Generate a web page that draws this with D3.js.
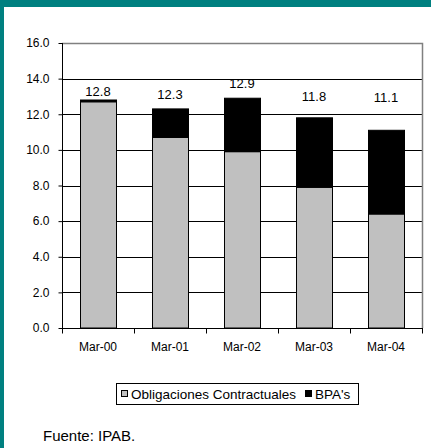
<!DOCTYPE html>
<html>
<head>
<meta charset="utf-8">
<script src="https://cdn.jsdelivr.net/npm/d3@7"></script>
<style>
  html, body { margin: 0; padding: 0; background: #fff; }
  svg { display: block; font-family: "Liberation Sans", Arial, sans-serif; }
</style>
</head>
<body>
<svg id="chart" width="431" height="448"></svg>
<script>
// Periods (March of each year)
const categories = ["Mar-00", "Mar-01", "Mar-02", "Mar-03", "Mar-04"];
// Obligaciones contractuales
const obligaciones = [12.7, 10.7, 9.9, 7.9, 6.4];
// BPA's
const bpas = [0.1, 1.6, 3.0, 3.9, 4.7];
// Totals printed above each bar
const totals = [12.8, 12.3, 12.9, 11.8, 11.1];
const yTicks = [0, 2, 4, 6, 8, 10, 12, 14, 16];
const seriesNames = ["Obligaciones Contractuales", "BPA's"];
const seriesColors = ["#c0c0c0", "#000000"];
// vertical nudge (px) of each total label above its bar
const labelLift = [4, 10, 10, 17, 28];

const svg = d3.select("#chart");
const W = 431, H = 448;

// teal frame strips (top and left)
svg.append("rect").attr("x", 0).attr("y", 0).attr("width", W).attr("height", 7).attr("fill", "#008080");
svg.append("rect").attr("x", 0).attr("y", 0).attr("width", 4).attr("height", H).attr("fill", "#008080");

const mLeft = 62, mRight = 422, mTop = 43, mBottom = 328;

const x = d3.scaleBand().domain(categories).range([mLeft, mRight]).paddingInner(0.5).paddingOuter(0.25);
const xb = d3.scaleBand().domain(categories).range([mLeft, mRight]);
const y = d3.scaleLinear().domain([0, 16]).range([mBottom, mTop]);

// horizontal gridlines
svg.append("g").selectAll("line").data(yTicks.filter(d => d > 0 && d < 16)).join("line")
  .attr("x1", mLeft).attr("x2", mRight)
  .attr("y1", d => Math.round(y(d)) + 0.5).attr("y2", d => Math.round(y(d)) + 0.5)
  .attr("stroke", "#000").attr("stroke-width", 1);

// plot frame top and right
svg.append("path")
  .attr("d", `M${mLeft},${Math.round(y(16)) + 0.5}H${mRight + 0.5}V${mBottom}`)
  .attr("fill", "none").attr("stroke", "#808080").attr("stroke-width", 1.5);

// stacked bars
const stack = categories.map((c, i) => ({ c, o: obligaciones[i], b: bpas[i] }));
const g = svg.append("g");
g.selectAll("rect.o").data(stack).join("rect").attr("class", "o")
  .attr("x", d => x(d.c) + 0.5).attr("width", x.bandwidth())
  .attr("y", d => y(d.o)).attr("height", d => y(0) - y(d.o))
  .attr("fill", seriesColors[0]).attr("stroke", "#000").attr("stroke-width", 1);
g.selectAll("rect.b").data(stack).join("rect").attr("class", "b")
  .attr("x", d => x(d.c) + 0.5).attr("width", x.bandwidth())
  .attr("y", d => y(d.o + d.b)).attr("height", d => y(d.o) - y(d.o + d.b))
  .attr("fill", seriesColors[1]).attr("stroke", "#000").attr("stroke-width", 1);

// total labels
svg.append("g").selectAll("text").data(totals).join("text")
  .attr("x", (d, i) => x(categories[i]) + x.bandwidth() / 2)
  .attr("y", (d, i) => y(d) - labelLift[i])
  .attr("text-anchor", "middle").attr("font-size", 13).attr("fill", "#000")
  .text(d => d.toFixed(1));

// y axis
const yAxis = d3.axisLeft(y).tickValues(yTicks).tickFormat(d3.format(".1f")).tickSize(4).tickPadding(9);
const ya = svg.append("g").attr("transform", `translate(${mLeft + 0.5},0)`).call(yAxis);
ya.select(".domain").attr("stroke", "#000").attr("d", `M0,${y(16)}V${mBottom}`);
ya.selectAll("text").attr("font-size", 12).attr("font-family", "Liberation Sans, Arial, sans-serif").attr("fill", "#000");
ya.selectAll("line").attr("stroke", "#000");

// x axis: ticks at category boundaries
const xa = svg.append("g").attr("transform", `translate(0,${mBottom + 0.5})`);
xa.append("line").attr("x1", mLeft).attr("x2", mRight + 1).attr("stroke", "#000");
xa.selectAll("line.t").data(categories.map(c => xb(c)).concat([mRight])).join("line").attr("class", "t")
  .attr("x1", d => Math.round(d) + 0.5).attr("x2", d => Math.round(d) + 0.5)
  .attr("y1", 0).attr("y2", 5).attr("stroke", "#000");
xa.selectAll("text").data(categories).join("text")
  .attr("x", d => xb(d) + xb.bandwidth() / 2).attr("y", 22)
  .attr("text-anchor", "middle").attr("font-size", 12).attr("fill", "#000")
  .text(d => d);

// legend
const lg = svg.append("g");
lg.append("rect").attr("x", 116.5).attr("y", 383.5).attr("width", 242).attr("height", 21)
  .attr("fill", "#fff").attr("stroke", "#000").attr("stroke-width", 1);
const items = [{ x: 121, name: seriesNames[0], color: seriesColors[0] }, { x: 305, name: seriesNames[1], color: seriesColors[1] }];
items.forEach(it => {
  lg.append("rect").attr("x", it.x + 0.5).attr("y", 390.5).attr("width", 6).attr("height", 6)
    .attr("fill", it.color).attr("stroke", "#000").attr("stroke-width", 1);
  lg.append("text").attr("x", it.x + 10).attr("y", 398.5).attr("font-size", 13.5).attr("fill", "#000").text(it.name);
});

// source note
svg.append("text").attr("x", 43).attr("y", 441).attr("font-size", 15).attr("fill", "#000").text("Fuente: IPAB.");
</script>
</body>
</html>
